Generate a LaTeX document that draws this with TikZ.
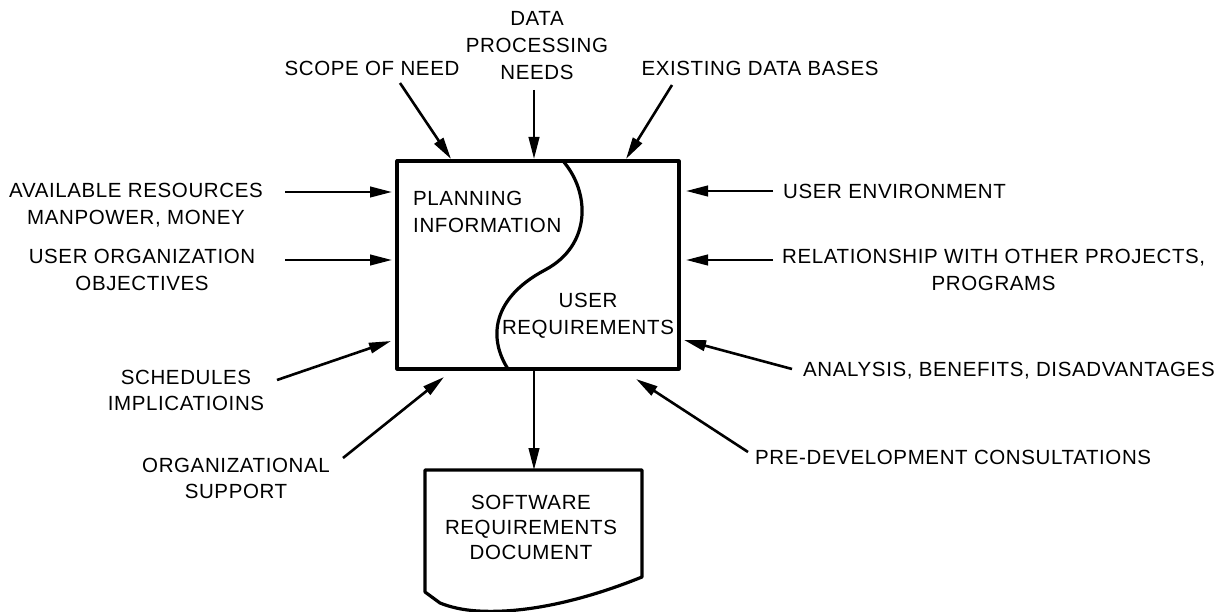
\documentclass[tikz,border=0pt]{standalone}
\usepackage{fontspec}
\setmainfont[LetterSpace=3]{Liberation Sans}
\usetikzlibrary{arrows.meta}
\begin{document}
\begin{tikzpicture}[x=1pt,y=-1pt,
  lbl/.style={font=\fontsize{20.5}{27}\selectfont, inner sep=0pt, align=center},
  arr/.style={line width=2.6pt, -{Triangle[length=22pt,width=10.5pt]}},
  heavy/.style={line width=3.2pt, line join=round}]
\useasboundingbox (0,0) rectangle (1230,612);
% main box
\node[draw, heavy, minimum width=282pt, minimum height=208pt, inner sep=0pt] (box) at (538,265) {};
\draw[heavy] (563,161) .. controls (590,192) and (592,245) .. (545,270)
             .. controls (492,298) and (488,338) .. (508,369);
\node[lbl, align=left, anchor=west] (plan) at (413,212) {PLANNING\\INFORMATION};
\node[lbl] (ureq) at (588,316) {USER\\REQUIREMENTS};
% document
\draw[heavy] (425,470) -- (642,470) -- (642,577) .. controls (590,598) and (530,614) .. (478,611)
   .. controls (462,610) and (450,607) .. (440,603) -- (425,592) -- cycle;
\node[lbl, font=\fontsize{20.5}{25}\selectfont] (doctext) at (531,527) {SOFTWARE\\REQUIREMENTS\\DOCUMENT};
\coordinate (outb) at (534,369);
\coordinate (doctop) at (534,470);
\draw[arr] (outb) -- (doctop);
% top labels
\node[lbl] (data) at (537,46) {DATA\\PROCESSING\\NEEDS};
\node[lbl] (scope) at (372,68) {SCOPE OF NEED};
\node[lbl] (exist) at (760,68) {EXISTING DATA BASES};
\coordinate (s1) at (400,83);  \coordinate (e1) at (451,159);
\coordinate (s2) at (534,90);  \coordinate (e2) at (534,159);
\coordinate (s3) at (672,85);  \coordinate (e3) at (626,159);
\draw[arr] (s1) -- (e1);
\draw[arr] (s2) -- (e2);
\draw[arr] (s3) -- (e3);
% left labels
\node[lbl] (avail) at (136,205) {AVAILABLE RESOURCES\\MANPOWER, MONEY};
\node[lbl] (userorg) at (142,270) {USER ORGANIZATION\\OBJECTIVES};
\node[lbl, font=\fontsize{20.5}{26}\selectfont] (sched) at (186,390) {SCHEDULES\\IMPLICATIOINS};
\node[lbl, font=\fontsize{20.5}{26}\selectfont] (orgsup) at (236,478) {ORGANIZATIONAL\\SUPPORT};
\coordinate (l1s) at (285,192); \coordinate (l1e) at (392,192);
\coordinate (l2s) at (285,260); \coordinate (l2e) at (392,260);
\coordinate (l3s) at (277,380); \coordinate (l3e) at (391,341);
\coordinate (l4s) at (343,458); \coordinate (l4e) at (444,377);
\draw[arr] (l1s) -- (l1e);
\draw[arr] (l2s) -- (l2e);
\draw[arr] (l3s) -- (l3e);
\draw[arr] (l4s) -- (l4e);
% right labels
\node[lbl, anchor=west] (userenv) at (783,191) {USER ENVIRONMENT};
\node[lbl, anchor=west] (rel) at (782,270) {RELATIONSHIP WITH OTHER PROJECTS,\\PROGRAMS};
\node[lbl, anchor=west] (anal) at (803,371) {ANALYSIS, BENEFITS, DISADVANTAGES};
\node[lbl, anchor=west] (pre) at (755,457) {PRE-DEVELOPMENT CONSULTATIONS};
\coordinate (r1s) at (773,191); \coordinate (r1e) at (686,191);
\coordinate (r2s) at (773,260); \coordinate (r2e) at (686,260);
\coordinate (r3s) at (792,369); \coordinate (r3e) at (684,340);
\coordinate (r4s) at (748,452); \coordinate (r4e) at (636,379);
\draw[arr] (r1s) -- (r1e);
\draw[arr] (r2s) -- (r2e);
\draw[arr] (r3s) -- (r3e);
\draw[arr] (r4s) -- (r4e);
\end{tikzpicture}
\end{document}
